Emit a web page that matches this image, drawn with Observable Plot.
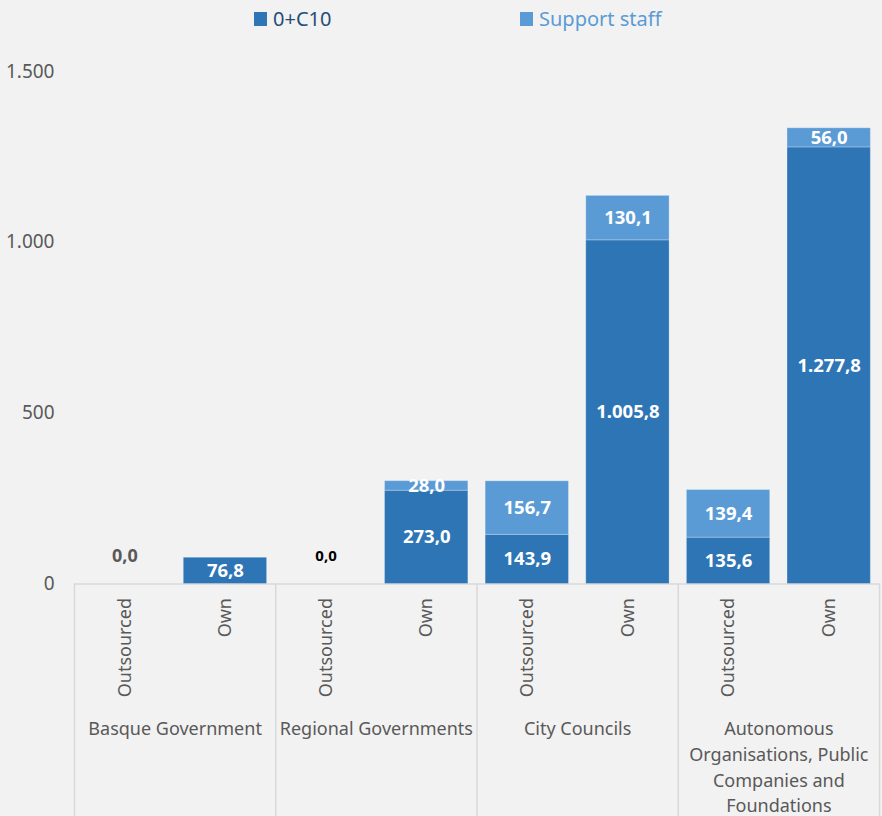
<!DOCTYPE html>
<html>
<head>
<meta charset="utf-8">
<script src="https://cdn.jsdelivr.net/npm/d3@7"></script>
<script src="https://cdn.jsdelivr.net/npm/@observablehq/plot@0.6"></script>
<style>
  html, body { margin: 0; padding: 0; background: #f2f2f2; }
  body { width: 882px; height: 816px; overflow: hidden; font-family: "Noto Sans", sans-serif; }
  #legend { position: relative; height: 40px; }
  .item { position: absolute; top: 5px; display: flex; align-items: center; font-size: 20px; line-height: 28px; }
  .sw { width: 13px; height: 14px; margin-right: 6px; }
</style>
</head>
<body>
<div id="legend"></div>
<div id="chart"></div>
<script>
// ---- data ----
const groups = ["Basque Government", "Regional Governments", "City Councils", "Autonomous\nOrganisations, Public\nCompanies and\nFoundations"];
const types = ["Outsourced", "Own"];
const seriesNames = ["0+C10", "Support staff"];
const c10 = [0, 76.8, 0, 273.0, 143.9, 1005.8, 135.6, 1277.8];
const support = [0, 0, 0, 28.0, 156.7, 130.1, 139.4, 56.0];
const yTicks = [0, 500, 1000, 1500];

// ---- styles ----
const colors = ["#2e75b6", "#5b9bd5"];
const legendText = ["#1f4e79", "#5b9bd5"];
const zeroLabelStyle = [{fill: "#595959", size: 18}, {fill: "#000000", size: 15}];
const axisGray = "#595959";
const lineGray = "#d9d9d9";
const barHalf = 0.414;

const W = 882, H = 776, mL = 74, mR = 3, mT = 31, mB = 232.5;
const yMax = 1500;

const loc = d3.formatLocale({decimal: ",", thousands: ".", grouping: [3], currency: ["", ""]});
const fmt1 = loc.format(",.1f");
const fmt0 = loc.format(",.0f");

const bars = c10.map((v, i) => ({i, group: Math.floor(i / types.length), type: types[i % types.length], c10: v, support: support[i]}));
const segments = bars.flatMap(b => [
  {i: b.i, series: seriesNames[0], y1: 0, y2: b.c10, value: b.c10},
  {i: b.i, series: seriesNames[1], y1: b.c10, y2: b.c10 + b.support, value: b.support}
]);
const labeled = segments.filter(s => s.value > 0);
const zeros = bars.filter(b => b.c10 + b.support === 0);
const boundaries = d3.range(groups.length + 1).map(g => g * types.length - 0.5);
const groupCenters = groups.map((g, k) => ({name: g, x: k * types.length + (types.length - 1) / 2}));
const plotH = H - mT - mB;
const depth = yMax * mB / plotH;

// legend
const legend = document.getElementById("legend");
const legendX = [254, 520];
seriesNames.forEach((s, k) => {
  const it = document.createElement("div");
  it.className = "item";
  it.style.left = legendX[k] + "px";
  it.innerHTML = `<span class="sw" style="background:${colors[k]}"></span><span style="color:${legendText[k]}">${s}</span>`;
  legend.appendChild(it);
});

const plot = Plot.plot({
  width: W, height: H,
  marginLeft: mL, marginRight: mR, marginTop: mT, marginBottom: mB,
  style: {background: "#f2f2f2", fontFamily: "Noto Sans", overflow: "visible"},
  x: {domain: [-0.5, types.length * groups.length - 0.5], axis: null},
  y: {domain: [0, yMax], axis: null},
  color: {domain: seriesNames, range: colors},
  marks: [
    Plot.ruleX(boundaries, {x: d => d, y1: 0, y2: -depth, stroke: lineGray, strokeWidth: 1.5}),
    Plot.ruleY([0], {x1: boundaries[0], x2: boundaries[boundaries.length - 1], stroke: lineGray, strokeWidth: 1.5}),
    Plot.rect(segments.filter(s => s.value > 0), {
      x1: d => d.i - barHalf, x2: d => d.i + barHalf, y1: "y1", y2: "y2", fill: "series",
      stroke: "#ffffff", strokeOpacity: 0.25, strokeWidth: 1
    }),
    Plot.text(labeled, {
      x: "i", y: d => (d.y1 + d.y2) / 2, text: d => fmt1(d.value),
      fill: "white", fontWeight: "bold", fontSize: 18.5
    }),
    ...zeros.map((b, k) => Plot.text([b], {
      x: "i", y: 0, dy: -28, text: d => fmt1(d.c10 + d.support),
      fill: zeroLabelStyle[k].fill, fontSize: zeroLabelStyle[k].size, fontWeight: "bold"
    })),
    Plot.axisY({ticks: yTicks, tickSize: 0, tickPadding: 20, tickFormat: fmt0, fontSize: 19, fill: axisGray, label: null}),
    Plot.axisX({ticks: bars.map(b => b.i), tickFormat: i => types[i % types.length], tickRotate: -90, tickSize: 0, tickPadding: 14, fontSize: 18, fill: axisGray, label: null}),
    Plot.text(groupCenters, {x: "x", y: 0, dy: 133, text: "name", lineAnchor: "top", lineHeight: 1.43, fontSize: 18, fill: axisGray})
  ]
});
document.getElementById("chart").appendChild(plot);
</script>
</body>
</html>
